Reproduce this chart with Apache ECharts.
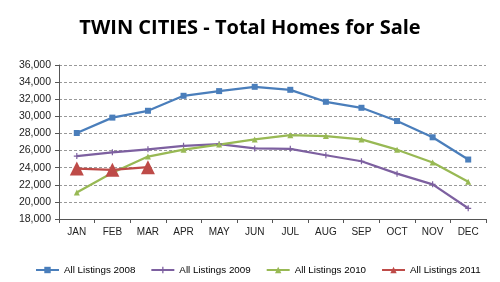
<!DOCTYPE html>
<html>
<head>
<meta charset="utf-8">
<script src="https://cdn.jsdelivr.net/npm/echarts@6/dist/echarts.min.js"></script>
<style>
  html, body { margin: 0; padding: 0; background: #fff; }
  #chart { width: 500px; height: 282px; }
</style>
</head>
<body>
<div id="chart"></div>
<script>
const months = ["JAN", "FEB", "MAR", "APR", "MAY", "JUN", "JUL", "AUG", "SEP", "OCT", "NOV", "DEC"];
const listings2008 = [28050, 29850, 30650, 32400, 32950, 33450, 33100, 31700, 31000, 29450, 27550, 24950];
const listings2009 = [25350, 25800, 26150, 26550, 26750, 26250, 26200, 25450, 24750, 23300, 22050, 19250];
const listings2010 = [21100, 23400, 25300, 26100, 26700, 27300, 27800, 27700, 27300, 26100, 24600, 22350];
const listings2011 = [23900, 23750, 24050];

const plusPath = "path://M4,0L6,0L6,4L10,4L10,6L6,6L6,10L4,10L4,6L0,6L0,4L4,4Z";

// 图表
let myChart = echarts.init(document.getElementById("chart"));
myChart.setOption({
  animation: false,
  title: {
    text: "TWIN CITIES - Total Homes for Sale",
    left: "center",
    top: 13,
    textStyle: {
      fontFamily: "Open Sans",
      fontWeight: "bold",
      fontSize: 20,
      color: "#000",
    },
  },
  legend: {
    top: 260,
    left: 30,
    width: 480,
    itemGap: 15,
    itemWidth: 23,
    itemHeight: 8,
    textStyle: {
      fontFamily: "Liberation Sans",
      fontSize: 9.8,
      color: "#000",
    },
  },
  grid: {
    left: 59,
    right: 14,
    top: 65,
    bottom: 63,
  },
  xAxis: {
    type: "category",
    data: months,
    boundaryGap: true,
    axisLine: { lineStyle: { color: "#555", width: 1 } },
    axisTick: { show: true, length: 4, lineStyle: { color: "#555" } },
    axisLabel: {
      interval: 0,
      margin: 8,
      fontFamily: "Liberation Sans",
      fontSize: 10,
      color: "#222",
    },
  },
  yAxis: {
    type: "value",
    min: 18000,
    max: 36000,
    interval: 2000,
    axisLine: { show: true, lineStyle: { color: "#555", width: 1 } },
    axisTick: { show: true, length: 4, inside: false, lineStyle: { color: "#555" } },
    axisLabel: {
      margin: 8,
      fontFamily: "Liberation Sans",
      fontSize: 10.5,
      color: "#222",
      formatter: (v) => v.toLocaleString("en-US"),
    },
    splitLine: {
      show: true,
      lineStyle: { color: "#999", type: [3, 2], width: 1 },
    },
  },
  series: [
    {
      name: "All Listings 2008",
      type: "line",
      data: listings2008,
      symbol: "rect",
      symbolSize: 6,
      lineStyle: { color: "#4A7EBB", width: 2.25 },
      itemStyle: { color: "#4A7EBB" },
    },
    {
      name: "All Listings 2009",
      type: "line",
      data: listings2009,
      symbol: plusPath,
      symbolSize: 6,
      lineStyle: { color: "#7D60A0", width: 2.25 },
      itemStyle: { color: "#7D60A0" },
    },
    {
      name: "All Listings 2010",
      type: "line",
      data: listings2010,
      symbol: "triangle",
      symbolSize: 6,
      lineStyle: { color: "#98B954", width: 2.25 },
      itemStyle: { color: "#98B954" },
    },
    {
      name: "All Listings 2011",
      type: "line",
      data: listings2011,
      symbol: "triangle",
      symbolSize: 14,
      lineStyle: { color: "#BE4B48", width: 2.25 },
      itemStyle: { color: "#BE4B48" },
    },
  ],
});
</script>
</body>
</html>
